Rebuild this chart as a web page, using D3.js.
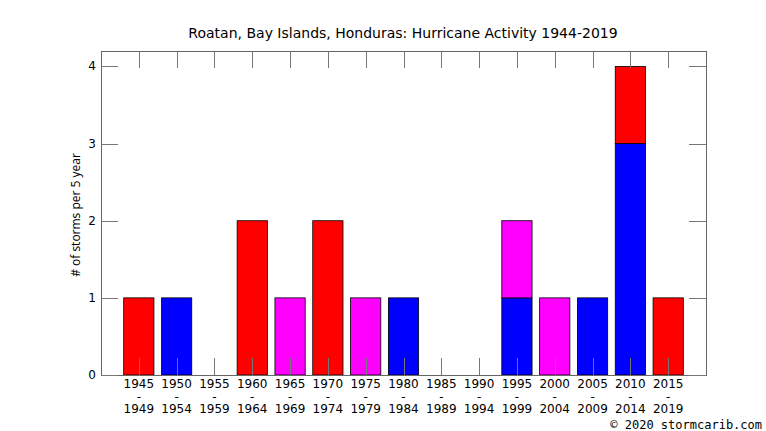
<!DOCTYPE html>
<html>
<head>
<meta charset="utf-8">
<script src="https://cdn.jsdelivr.net/npm/d3@7"></script>
<style>
  body { margin: 0; background: #fff; }
  text { font-family: "DejaVu Sans", sans-serif; }
</style>
</head>
<body>
<div id="chart"></div>
<script>
// periods of five years, one bar each
const periodStart = [1945, 1950, 1955, 1960, 1965, 1970, 1975, 1980, 1985, 1990, 1995, 2000, 2005, 2010, 2015];
const periodEnd   = [1949, 1954, 1959, 1964, 1969, 1974, 1979, 1984, 1989, 1994, 1999, 2004, 2009, 2014, 2019];

// storm counts per period, stacked bottom to top: blue, magenta, red
const blueCounts    = [0, 1, 0, 0, 0, 0, 0, 1, 0, 0, 1, 0, 1, 3, 0];
const magentaCounts = [0, 0, 0, 0, 1, 0, 1, 0, 0, 0, 1, 1, 0, 0, 0];
const redCounts     = [1, 0, 0, 2, 0, 2, 0, 0, 0, 0, 0, 0, 0, 1, 1];

const yTicks = [0, 1, 2, 3, 4];

const width = 766, height = 431;
const margin = {top: 51, right: 60, bottom: 56, left: 101};

const svg = d3.select("#chart").append("svg")
  .attr("width", width)
  .attr("height", height);

const x = d3.scaleLinear()
  .domain([0, periodStart.length + 1])
  .range([margin.left, width - margin.right]);

const y = d3.scaleLinear()
  .domain([0, 4.2])
  .range([height - margin.bottom, margin.top]);

const series = [
  {name: "blue", color: "#0000ff", values: blueCounts},
  {name: "magenta", color: "#ff00ff", values: magentaCounts},
  {name: "red", color: "#ff0000", values: redCounts}
];

const table = periodStart.map((s, i) => {
  const row = {i: i};
  series.forEach(se => row[se.name] = se.values[i]);
  return row;
});

const stacked = d3.stack().keys(series.map(s => s.name))(table);

const barW = (x(1) - x(0)) * 0.8;

// bars
svg.append("g")
  .selectAll("g")
  .data(stacked)
  .join("g")
    .attr("fill", (d, k) => series[k].color)
  .selectAll("rect")
  .data(d => d.filter(p => p[1] > p[0]))
  .join("rect")
    .attr("x", d => x(d.data.i + 1) - barW / 2)
    .attr("y", d => y(d[1]))
    .attr("width", barW)
    .attr("height", d => y(d[0]) - y(d[1]))
    .attr("stroke", "#000")
    .attr("stroke-width", 0.8);

const x0 = x.range()[0], x1 = x.range()[1];
const y0 = y.range()[0], y1 = y.range()[1];
const tickLen = 17;

// frame and ticks
const axes = svg.append("g")
  .attr("stroke", "#555")
  .attr("stroke-width", 1)
  .attr("fill", "none");

axes.append("rect")
  .attr("x", x0 + 0.5).attr("y", y1 + 0.5)
  .attr("width", x1 - x0).attr("height", y0 - y1)
  .attr("stroke", "#666");

axes.selectAll(".xt")
  .data(periodStart)
  .join("path")
    .attr("d", (d, i) => {
      const px = Math.round(x(i + 1)) + 0.5;
      return `M${px},${y0}v${-tickLen}M${px},${y1}v${tickLen}`;
    })
    .attr("stroke", "#777");

axes.selectAll(".yt")
  .data(yTicks)
  .join("path")
    .attr("d", d => {
      const py = Math.round(y(d)) + 0.5;
      return `M${x0},${py}h${tickLen}M${x1},${py}h${-tickLen}`;
    })
    .attr("stroke", "#777");

// y tick labels
svg.append("g")
  .selectAll("text")
  .data(yTicks)
  .join("text")
    .attr("x", x0 - 5)
    .attr("y", d => y(d) + 4)
    .attr("text-anchor", "end")
    .attr("font-size", 12)
    .text(d => d);

// x tick labels (three lines)
const xl = svg.append("g")
  .attr("font-size", 12)
  .attr("text-anchor", "middle");

periodStart.forEach((s, i) => {
  const t = xl.append("text")
    .attr("x", x(i + 1))
    .attr("y", y0 + 13);
  t.append("tspan").attr("x", x(i + 1)).attr("dy", 0).text(s);
  t.append("tspan").attr("x", x(i + 1)).attr("dy", 12.5).text("-");
  t.append("tspan").attr("x", x(i + 1)).attr("dy", 12.5).text(periodEnd[i]);
});

// y axis title
svg.append("text")
  .attr("transform", `translate(80,${(y0 + y1) / 2 + 2}) rotate(-90)`)
  .attr("text-anchor", "middle")
  .attr("font-size", 12)
  .style("font-family", "'Open Sans', sans-serif")
  .text("# of storms per 5 year");

// title
svg.append("text")
  .attr("x", 403)
  .attr("y", 38)
  .attr("text-anchor", "middle")
  .attr("font-size", 14)
  .text("Roatan, Bay Islands, Honduras: Hurricane Activity 1944-2019");

// credit
svg.append("text")
  .attr("x", 762)
  .attr("y", 429)
  .attr("text-anchor", "end")
  .attr("font-size", 12)
  .style("font-family", "'DejaVu Sans Mono', monospace")
  .text("© 2020 stormcarib.com");
</script>
</body>
</html>
